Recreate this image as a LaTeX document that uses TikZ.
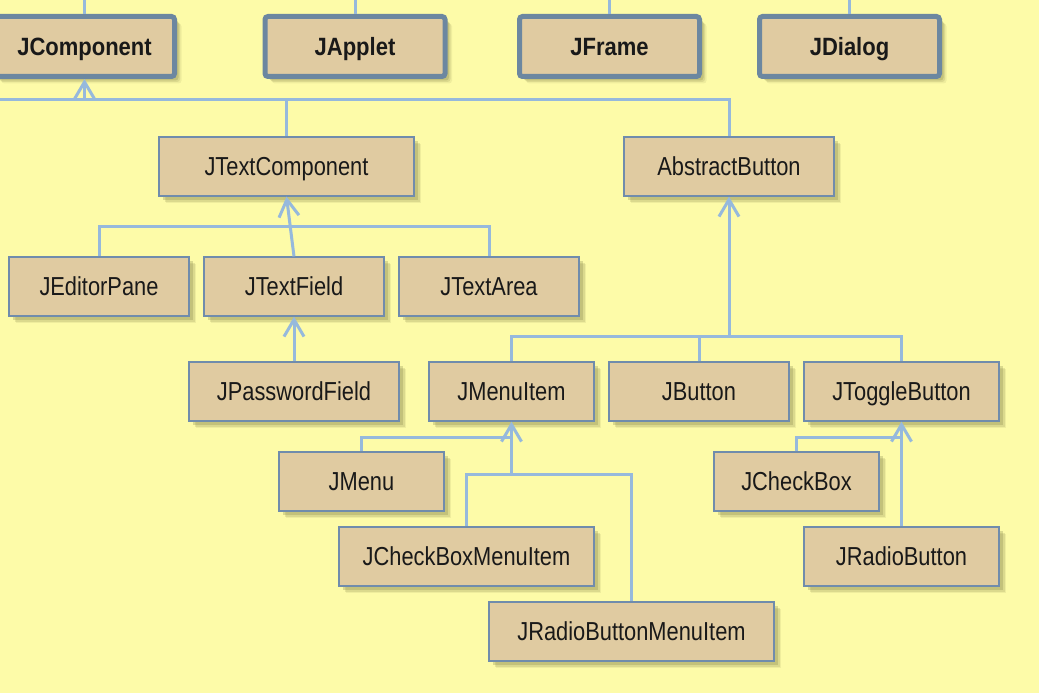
\documentclass[tikz,border=0pt]{standalone}
\usepackage{fontspec}
\setmainfont{Liberation Sans}[FakeStretch=0.84, BoldFeatures={FakeStretch=0.88}]
\usetikzlibrary{arrows.meta,shadows}

\definecolor{paper}{RGB}{253,251,168}
\definecolor{boxfill}{RGB}{224,203,161}
\definecolor{boxline}{RGB}{112,140,172}
\definecolor{topline}{RGB}{108,135,160}
\definecolor{linkblue}{RGB}{150,185,220}
\definecolor{shade}{RGB}{140,140,80}

\tikzset{
    softshadow/.style={
        drop shadow={shadow xshift=7pt, shadow yshift=-7pt, fill=shade, opacity=.12},
        drop shadow={shadow xshift=5.5pt, shadow yshift=-5.5pt, fill=shade, opacity=.2},
        drop shadow={shadow xshift=4pt, shadow yshift=-4pt, fill=shade, opacity=.3}},
    cls/.style={draw=boxline, line width=1.2pt, fill=boxfill, inner sep=0pt,
        minimum width=#1, minimum height=59pt, text=black!90,
        text height=18.6pt, text depth=0pt,
        font=\fontsize{26}{30}\selectfont, softshadow},
    topcls/.style={cls=180pt, draw=topline, line width=5pt, rounded corners=3pt,
        minimum height=60pt, text height=17.7pt,
        font=\bfseries\fontsize{25}{30}\selectfont},
    link/.style={linkblue, line width=3pt},
    inherit/.style={link, -{Straight Barb[length=17pt,width=20pt]}}
}

\begin{document}
\begin{tikzpicture}[x=1pt, y=-1pt]
            \useasboundingbox (0,0) rectangle (1039,693);
            \fill[paper] (0,0) rectangle (1039,693);
            \coordinate (edge) at (0,0);

            % Top level classes
            \node[topcls] (JComponent) at (84.5,46.5) {JComponent};
            \node[topcls] (JApplet) at (355,46.5) {JApplet};
            \node[topcls] (JFrame) at (609.5,46.5) {JFrame};
            \node[topcls] (JDialog) at (849.5,46.5) {JDialog};
            \foreach \n in {JComponent, JApplet, JFrame, JDialog}
            {
                \draw[link] (\n.north) -- (\n.north |- edge);
            }

                % Below JComponent
                \node[cls=255pt] (JTextComponent) at (286.5,166.5) {JTextComponent};
                \node[cls=210pt] (AbstractButton) at (729,166.5) {AbstractButton};
                \coordinate (bus0) at (84.5,99);
                \draw[inherit] (bus0) -- (JComponent.south);
                \draw[link] (bus0) -- (bus0 -| edge);
                \draw[link] (JTextComponent.north) |- (bus0);
                \draw[link] (JTextComponent.north |- bus0) -| (AbstractButton.north);

                    % Text classes
                    \node[cls=180pt] (JEditorPane) at (99,286.5) {JEditorPane};
                    \node[cls=180pt] (JTextField) at (294,286.5) {JTextField};
                    \node[cls=180pt] (JTextArea) at (489,286.5) {JTextArea};
                    \node[cls=210pt] (JPasswordField) at (294,391.5) {JPasswordField};
                    \coordinate (bus1) at (287,226);
                    \draw[inherit] (JTextField.north) -- (JTextComponent.south);
                    \draw[link] (JEditorPane.north) |- (bus1) -| (JTextArea.north);
                    \draw[inherit] (JPasswordField.north) -- (JTextField.south);

                    % Button classes
                    \node[cls=165pt] (JMenuItem) at (511.5,391.5) {JMenuItem};
                    \node[cls=180pt] (JButton) at (699,391.5) {JButton};
                    \node[cls=195pt] (JToggleButton) at (901.5,391.5) {JToggleButton};
                    \coordinate (bus2) at (729,336);
                    \draw[inherit] (bus2) -- (AbstractButton.south);
                    \draw[link] (JMenuItem.north) |- (bus2) -| (JToggleButton.north);
                    \draw[link] (JButton.north) -- (JButton.north |- bus2);

                        % Menu items
                        \node[cls=165pt] (JMenu) at (361.5,481.5) {JMenu};
                        \node[cls=255pt] (JCheckBoxMenuItem) at (466.5,556.5) {JCheckBoxMenuItem};
                        \node[cls=285pt] (JRadioButtonMenuItem) at (631.5,631.5) {JRadioButtonMenuItem};
                        \coordinate (bus3) at (511.5,437);
                        \coordinate (bus4) at (511.5,474);
                        \draw[inherit] (bus4) -- (JMenuItem.south);
                        \draw[link] (JMenu.north) |- (bus3);
                        \draw[link] (JCheckBoxMenuItem.north) |- (bus4) -| (JRadioButtonMenuItem.north);

                        % Toggle buttons
                        \node[cls=165pt] (JCheckBox) at (796.5,481.5) {JCheckBox};
                        \node[cls=195pt] (JRadioButton) at (901.5,556.5) {JRadioButton};
                        \coordinate (bus5) at (901.5,437);
                        \draw[inherit] (JRadioButton.north) -- (JToggleButton.south);
                        \draw[link] (JCheckBox.north) |- (bus5);
        \end{tikzpicture}
\end{document}
